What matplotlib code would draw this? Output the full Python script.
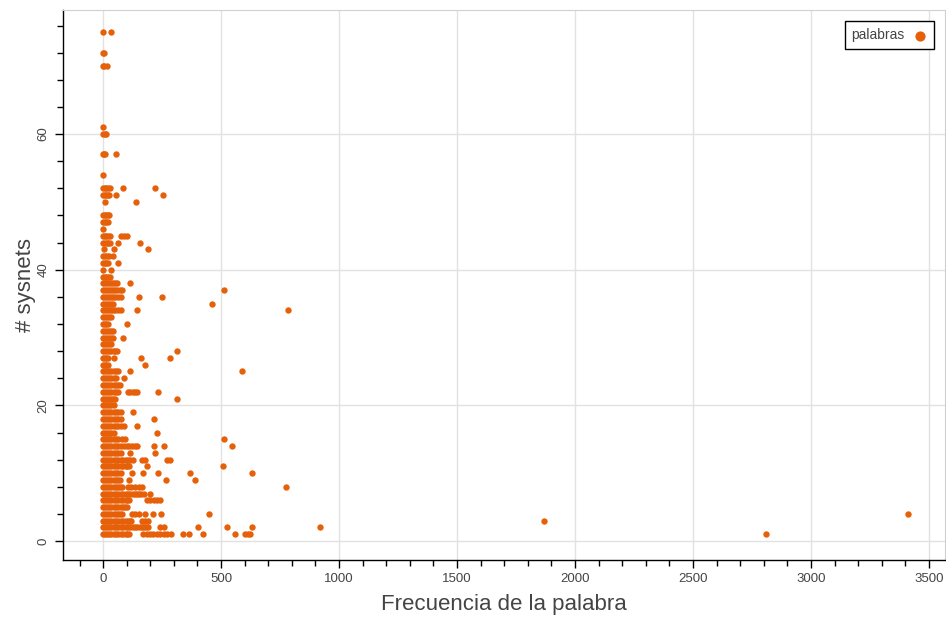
"""
Scatter: frecuencia de la palabra vs número de synsets (estilo Bokeh).
Output: out.png
"""

import matplotlib
matplotlib.use("Agg")
import matplotlib.pyplot as plt
from matplotlib.ticker import MultipleLocator

ORANGE = "#e6600a"
GREY_TXT = "#444444"

WORDS_BY_SYNSETS = [
    (75, [0, 34]),
    (72, [0, 5]),
    (70, [0, 5, 15]),
    (61, [0]),
    (60, [0, 6, 14]),
    (57, [0, 5, 10, 55]),
    (54, [0]),
    (52, [0, 6, 12, 20, 30, 86, 218]),
    (51, [0, 6, 12, 20, 25, 55, 254]),
    (50, [8, 140]),
    (48, [0, 7, 14, 20, 25]),
    (47, [0, 7, 14, 20]),
    (46, [0]),
    (45, [0, 7, 14, 22, 30, 76, 88, 100]),
    (44, [0, 7, 15, 22, 30, 61, 157]),
    (43, [5, 47, 189]),
    (42, [0, 8, 16, 25, 44]),
    (41, [0, 7, 14, 20, 62]),
    (40, [0, 34]),
    (39, [0, 7, 14, 22, 30]),
    (38, [0, 8, 16, 24, 32, 40, 50, 60, 114]),
    (37, [0, 8, 16, 24, 32, 40, 50, 60, 70, 80, 513]),
    (36, [0, 8, 16, 24, 32, 42, 52, 62, 75, 150, 249]),
    (35, [0, 8, 16, 26, 35, 40, 462]),
    (34, [0, 8, 16, 24, 33, 42, 52, 62, 75, 145, 785]),
    (33, [0, 8, 16, 25, 35]),
    (32, [0, 8, 14, 20, 100]),
    (31, [0, 8, 16, 25, 33, 40]),
    (30, [0, 8, 16, 25, 33, 40, 86]),
    (29, [0, 8, 16, 25, 35]),
    (28, [0, 8, 16, 25, 35, 45, 52, 60, 312]),
    (27, [0, 8, 14, 20, 48, 160, 284]),
    (26, [0, 8, 14, 20, 176]),
    (25, [0, 8, 16, 25, 35, 45, 55, 65, 114, 589]),
    (24, [0, 8, 16, 25, 35, 45, 55, 90]),
    (23, [0, 8, 16, 25, 35, 45, 55, 62, 70]),
    (22, [0, 8, 16, 25, 35, 45, 55, 65, 106, 115, 125, 135, 143, 234]),
    (21, [0, 8, 16, 25, 35, 43, 50, 315]),
    (20, [0, 8, 16, 25, 35, 45]),
    (19, [0, 8, 16, 25, 35, 45, 55, 65, 76, 128]),
    (18, [0, 8, 16, 25, 35, 45, 55, 65, 75, 216]),
    (17, [0, 8, 16, 25, 35, 45, 55, 65, 75, 90, 145]),
    (16, [0, 8, 16, 25, 35, 45, 227]),
    (15, [0, 8, 16, 25, 35, 45, 55, 65, 80, 93, 513]),
    (14, [0, 8, 16, 25, 35, 45, 55, 65, 75, 90, 100, 110, 122, 134, 144,
          217, 259, 546]),
    (13, [0, 8, 16, 25, 35, 45, 55, 65, 75, 114, 218]),
    (12, [0, 8, 16, 25, 35, 45, 55, 65, 75, 85, 95, 105, 115, 125, 164,
          178, 270, 284]),
    (11, [0, 8, 16, 25, 35, 45, 55, 65, 75, 85, 95, 103, 110, 185, 510]),
    (10, [0, 8, 16, 25, 35, 45, 55, 65, 75, 122, 171, 234, 369, 630]),
    (9, [0, 8, 16, 25, 35, 45, 55, 62, 70, 108, 267, 390]),
    (8, [0, 8, 16, 25, 35, 45, 55, 65, 73, 80, 107, 120, 135, 150, 164, 776]),
    (7, [0, 8, 16, 25, 35, 45, 55, 65, 75, 85, 95, 105, 115, 125, 135, 145,
         153, 160, 175, 199]),
    (6, [0, 8, 16, 25, 35, 45, 55, 65, 75, 85, 95, 103, 110, 185, 200, 215,
         228, 242]),
    (5, [0, 8, 16, 25, 35, 45, 55, 65, 75, 85, 93, 100]),
    (4, [0, 8, 16, 25, 35, 45, 55, 65, 73, 80, 122, 136, 150, 178, 213, 244,
         447, 3410]),
    (3, [0, 8, 16, 25, 35, 45, 55, 65, 75, 85, 95, 105, 113, 120, 164, 178,
         192, 1870]),
    (2, [0, 8, 16, 25, 35, 45, 55, 65, 75, 85, 95, 105, 115, 125, 135, 145,
         155, 165, 175, 183, 190, 242, 256, 401, 527, 630, 920]),
    (1, [0, 8, 16, 25, 35, 45, 55, 65, 75, 85, 95, 102, 109, 171, 185, 199,
         213, 227, 242, 256, 270, 288, 338, 365, 425, 557, 602, 612, 623, 2810]),
]

XLIM = (-170, 3568)
YLIM = (-2.8, 78.3)


def main():
    plt.rcParams["font.family"] = ["Liberation Sans Narrow", "Liberation Sans", "DejaVu Sans"]

    freq = [x for y, xs in WORDS_BY_SYNSETS for x in xs]
    synsets = [y for y, xs in WORDS_BY_SYNSETS for _ in xs]

    fig = plt.figure(figsize=(9.46, 6.18), dpi=100)
    ax = fig.add_axes([63 / 946, 58 / 618, 882 / 946, 550 / 618])

    ax.scatter(freq, synsets, s=21, color=ORANGE, linewidths=0, label="palabras", zorder=3)

    ax.set_xlim(*XLIM)
    ax.set_ylim(*YLIM)
    ax.xaxis.set_major_locator(MultipleLocator(500))
    ax.xaxis.set_minor_locator(MultipleLocator(100))
    ax.yaxis.set_major_locator(MultipleLocator(20))
    ax.yaxis.set_minor_locator(MultipleLocator(4))
    ax.grid(True, which="major", color="#e2e2e2", lw=1.0, zorder=0)

    for side in ("top", "right"):
        ax.spines[side].set_color("#d0d0d0")
        ax.spines[side].set_linewidth(0.8)
    for side in ("left", "bottom"):
        ax.spines[side].set_color("black")
        ax.spines[side].set_linewidth(1.0)

    ax.tick_params(which="major", direction="out", length=6, width=1, colors="black",
                   labelcolor=GREY_TXT, labelsize=9.5)
    ax.tick_params(which="minor", direction="out", length=4, width=1, colors="black")
    for lab in ax.get_yticklabels():
        lab.set_rotation(90)
        lab.set_va("center")

    ax.set_xlabel("Frecuencia de la palabra", fontsize=16, color=GREY_TXT, labelpad=6)
    ax.set_ylabel("# sysnets", fontsize=16, color=GREY_TXT, labelpad=1)

    leg = ax.legend(loc="upper right", markerfirst=False, fancybox=False, framealpha=1,
                    edgecolor="black", fontsize=10, handletextpad=0.6, borderpad=0.5,
                    handlelength=1.0, markerscale=1.6, bbox_to_anchor=(0.9955, 0.992))
    leg.get_frame().set_linewidth(1.0)
    for t in leg.get_texts():
        t.set_color(GREY_TXT)

    fig.savefig("out.png", dpi=100)


if __name__ == "__main__":
    main()
